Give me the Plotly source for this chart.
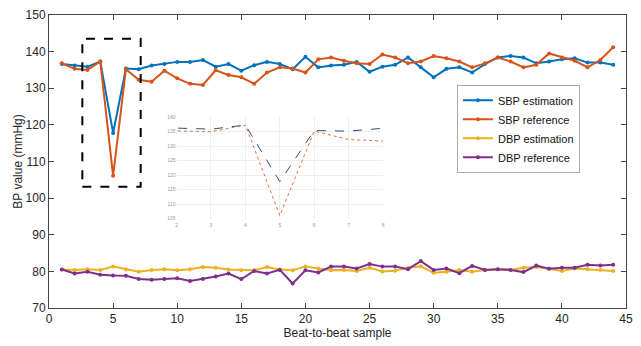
import plotly.graph_objects as go

samples = list(range(1, 45))
sbp_est = [136.6, 136.2, 135.9, 137.3, 117.8, 135.4, 135.2, 136.2, 136.6, 137.2,
           137.2, 137.7, 135.9, 136.6, 134.8, 136.3, 137.2, 136.6, 135.2, 138.6,
           135.7, 136.2, 136.4, 137.2, 134.5, 135.9, 136.4, 138.4, 135.7, 133.0,
           135.3, 135.7, 134.3, 136.6, 138.4, 138.8, 138.4, 136.8, 137.3, 137.9,
           138.2, 137.0, 137.0, 136.4]
sbp_ref = [136.8, 135.3, 135.0, 137.3, 106.1, 135.2, 132.3, 131.8, 134.8, 132.7,
           131.2, 130.9, 134.9, 133.6, 133.0, 131.2, 134.3, 135.7, 135.4, 134.3,
           137.9, 138.4, 137.5, 136.8, 136.6, 139.2, 138.4, 136.8, 137.3, 138.8,
           138.2, 137.3, 135.7, 136.8, 138.4, 137.3, 135.7, 136.4, 139.5, 138.4,
           137.5, 135.7, 137.7, 141.2]
dbp_est = [80.5, 80.4, 80.6, 80.4, 81.3, 80.5, 79.9, 80.4, 80.6, 80.3,
           80.6, 81.2, 81.0, 80.5, 80.3, 80.3, 81.2, 80.5, 80.3, 81.3,
           80.8, 80.3, 80.4, 80.1, 81.0, 80.0, 80.2, 81.0, 81.4, 79.6,
           79.9, 80.4, 79.9, 80.4, 80.6, 80.4, 81.0, 81.2, 80.7, 80.1,
           80.8, 80.6, 80.4, 80.1]
dbp_ref = [80.5, 79.4, 79.9, 79.1, 78.9, 78.8, 77.9, 77.7, 77.9, 78.1,
           77.4, 77.9, 78.6, 79.4, 77.9, 80.1, 79.4, 80.4, 76.7, 80.3,
           79.7, 81.3, 81.3, 80.8, 82.0, 81.3, 81.3, 80.6, 82.8, 80.4,
           80.8, 79.5, 81.5, 80.4, 80.6, 80.4, 79.8, 81.6, 80.7, 81.0,
           81.0, 81.8, 81.6, 81.8]

x_ticks = list(range(0, 46, 5))
y_ticks = list(range(70, 151, 10))
inset_x_ticks = list(range(2, 9))
inset_y_ticks = list(range(105, 141, 5))
zoom_box = dict(x0=2.6, x1=7.15, y0=103.1, y1=143.5)

names = ["SBP estimation", "SBP reference", "DBP estimation", "DBP reference"]
colors = ["#0072BD", "#D95319", "#EDB120", "#7E2F8E"]
series = [sbp_est, sbp_ref, dbp_est, dbp_ref]

fig = go.Figure()
for name, col, ys in zip(names, colors, series):
    fig.add_trace(go.Scatter(
        x=samples, y=ys, name=name, mode="lines+markers",
        line=dict(color=col, width=2),
        marker=dict(color=col, size=4, symbol="circle"),
        xaxis="x", yaxis="y",
    ))

# inset (zoom on samples 2-8, SBP only)
fig.add_trace(go.Scatter(x=samples, y=sbp_est, mode="lines", showlegend=False,
                         line=dict(color="#2b4f7a", width=1, dash="dash"),
                         xaxis="x2", yaxis="y2"))
fig.add_trace(go.Scatter(x=samples, y=sbp_ref, mode="lines", showlegend=False,
                         line=dict(color="#e0703a", width=1, dash="dot"),
                         xaxis="x2", yaxis="y2"))

fig.add_shape(type="rect", xref="x", yref="y",
              x0=zoom_box["x0"], x1=zoom_box["x1"], y0=zoom_box["y0"], y1=zoom_box["y1"],
              line=dict(color="black", width=2, dash="dash"))

axis_font = dict(family="Liberation Sans, Arial, sans-serif", size=12, color="#262626")

fig.update_layout(
    width=641, height=346,
    margin=dict(l=49, r=8, t=13, b=38),
    paper_bgcolor="white", plot_bgcolor="white",
    font=axis_font,
    showlegend=True,
    legend=dict(
        x=0.707, y=0.762, xanchor="left", yanchor="top",
        bgcolor="white", bordercolor="#aaaaaa", borderwidth=1,
        font=dict(family="Liberation Sans, Arial, sans-serif", size=11, color="#111111"),
        itemwidth=30, tracegroupgap=0,
    ),
    xaxis=dict(
        range=[0, 45], tickvals=x_ticks, ticks="inside", ticklen=5, tickcolor="#444",
        showline=True, linecolor="#444", linewidth=1, mirror="allticks",
        showgrid=False, zeroline=False,
        title=dict(text="Beat-to-beat sample", standoff=2, font=axis_font),
        tickfont=axis_font,
    ),
    yaxis=dict(
        range=[70, 150], tickvals=y_ticks, ticks="inside", ticklen=5, tickcolor="#444",
        showline=True, linecolor="#444", linewidth=1, mirror="allticks",
        showgrid=False, zeroline=False,
        title=dict(text="BP value (mmHg)", standoff=0, font=axis_font),
        tickfont=axis_font,
    ),
    xaxis2=dict(
        domain=[0.221, 0.579], anchor="y2", range=[2, 8], tickvals=inset_x_ticks,
        showgrid=True, gridcolor="#eeeeee", gridwidth=1, zeroline=False,
        showline=False, ticks="",
        tickfont=dict(size=5, color="#999999"), ticklabelstandoff=2,
    ),
    yaxis2=dict(
        domain=[0.305, 0.651], anchor="x2", range=[105, 140], tickvals=inset_y_ticks,
        showgrid=True, gridcolor="#eeeeee", gridwidth=1, zeroline=False,
        showline=False, ticks="",
        tickfont=dict(size=5, color="#999999"),
    ),
)

fig.write_html("out.html")
